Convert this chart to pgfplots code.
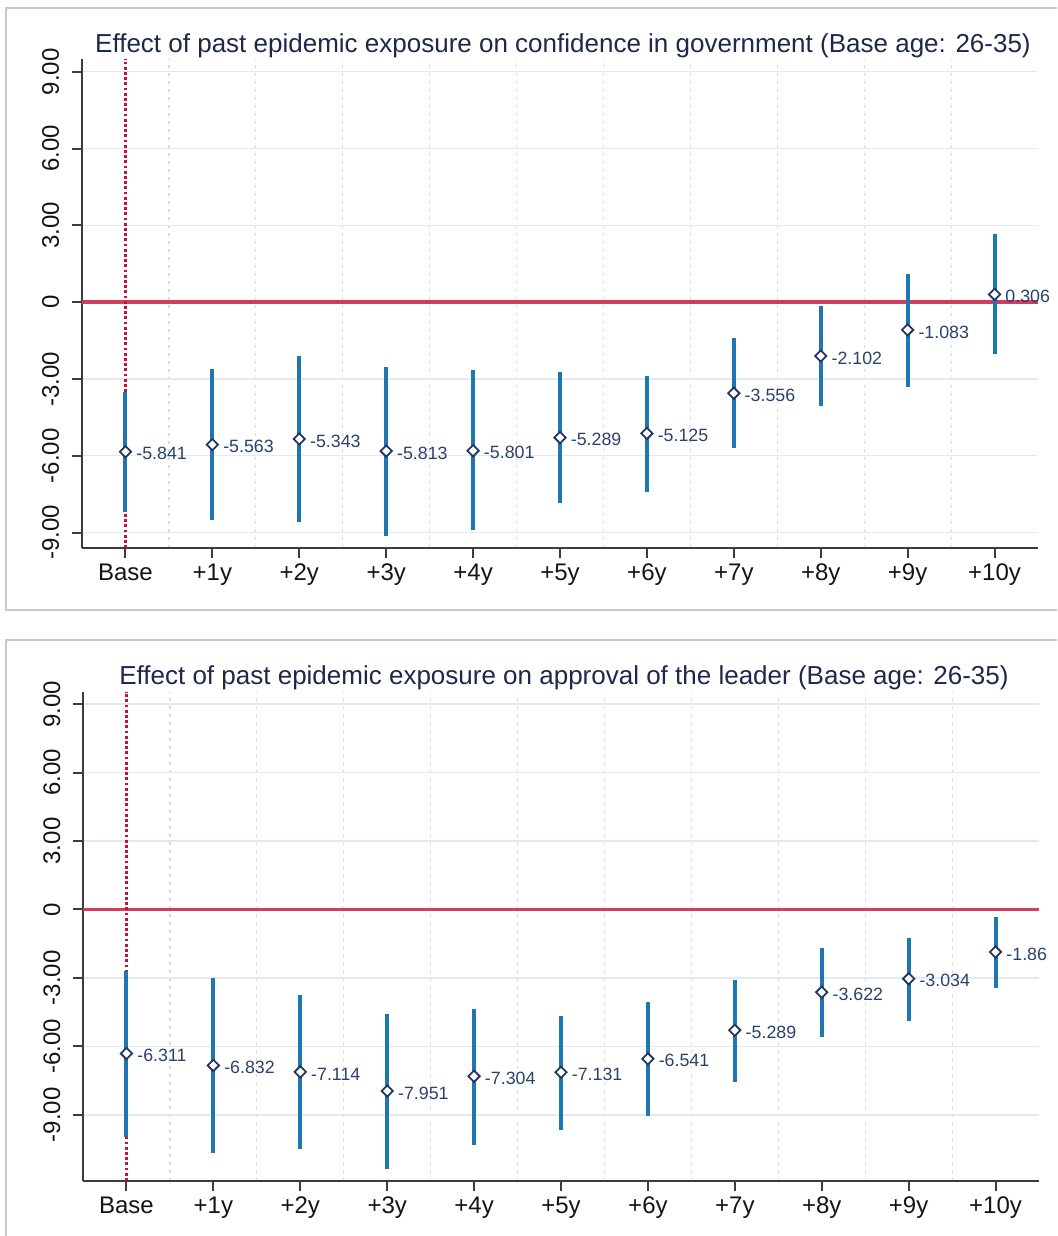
\documentclass[border=0pt]{standalone}
\usepackage{pgfplots}
\pgfplotsset{compat=1.18}
\usepackage{pgfplotstable}
\usepackage{fontspec}
\setmainfont{Liberation Sans}

\definecolor{barblue}{RGB}{30,118,178}
\definecolor{markedge}{RGB}{35,55,95}
\definecolor{labcol}{RGB}{40,65,110}
\definecolor{titlecol}{RGB}{30,40,75}
\definecolor{zerored}{RGB}{208,62,95}
\definecolor{dashred}{RGB}{200,15,55}
\definecolor{gridcol}{RGB}{226,234,238}
\definecolor{vgrid}{RGB}{210,218,226}
\definecolor{framecol}{RGB}{200,200,200}
\definecolor{axiscol}{RGB}{60,60,60}
\definecolor{tickcol}{RGB}{20,20,20}

\pgfplotstableread{
x y ep em lab
0 -5.841 2.32 2.34 -5.841
1 -5.563 2.96 2.96 -5.563
2 -5.343 3.24 3.25 -5.343
3 -5.813 3.29 3.31 -5.813
4 -5.801 3.14 3.11 -5.801
5 -5.289 2.56 2.57 -5.289
6 -5.125 2.25 2.27 -5.125
7 -3.556 2.14 2.14 -3.556
8 -2.102 1.96 1.96 -2.102
9 -1.083 2.18 2.22 -1.083
10 0.306 2.35 2.31 0.306
}\topdata

\pgfplotstableread{
x y ep em lab
0 -6.311 3.62 3.66 -6.311
1 -6.832 3.85 3.84 -6.832
2 -7.114 3.35 3.37 -7.114
3 -7.951 3.39 3.41 -7.951
4 -7.304 2.96 3.01 -7.304
5 -7.131 2.46 2.55 -7.131
6 -6.541 2.49 2.51 -6.541
7 -5.289 2.22 2.27 -5.289
8 -3.622 1.95 1.97 -3.622
9 -3.034 1.80 1.83 -3.034
10 -1.86 1.53 1.56 -1.86
}\botdata

\pgfplotsset{
 panel/.style={
  scale only axis, width=478pt, height=244.5pt, anchor=south west,
  xmin=-0.5, xmax=10.5,
  xtick={0,...,10},
  xticklabels={Base,+1y,+2y,+3y,+4y,+5y,+6y,+7y,+8y,+9y,+10y},
  minor x tick num=1, xminorgrids,
  minor grid style={vgrid, line width=0.6pt, dash pattern=on 1.5pt off 2.5pt},
  ytick={-9,-6,-3,0,3,6,9},
  yticklabels={-9.00,-6.00,-3.00,0,3.00,6.00,9.00},
  ymajorgrids, major grid style={gridcol, line width=0.6pt},
  axis x line*=bottom, axis y line*=left,
  axis line style={-, axiscol, line width=1pt},
  tick align=outside, major tick length=5pt, minor tick length=0pt,
  major tick style={axiscol, line width=1pt},
  clip=false,
  ticklabel style={font=\fontsize{12}{14}\selectfont, text=tickcol},
  yticklabel style={rotate=90, anchor=base},
  yticklabel shift=6.5pt,
  xticklabel style={anchor=base},
  xticklabel shift=11.5pt,
 },
 ebars/.style={draw=none, mark=none, forget plot,
  error bars/.cd, y dir=both, y explicit, error mark=none,
  error bar style={draw=barblue, line width=2pt, solid}},
 pts/.style={only marks, mark=square*, mark size=2.0pt,
  mark options={rotate=45, fill=white, draw=markedge, line width=0.9pt},
  nodes near coords, point meta=explicit symbolic,
  every node near coord/.style={anchor=west, xshift=4.5pt, yshift=-1pt, inner sep=0.5pt,
   font=\fontsize{8.9}{10}\selectfont, text=labcol}},
}

\begin{document}
\begin{tikzpicture}
\useasboundingbox (0,0) rectangle (528.5pt,618pt);
\clip (0,0) rectangle (528.5pt,618pt);
% panel frames
\draw[framecol, line width=0.6pt] (600pt,614pt) -- (3pt,614pt) -- (3pt,313pt) -- (600pt,313pt);
\draw[framecol, line width=0.6pt] (600pt,298pt) -- (3pt,298pt) -- (3pt,-5pt);
% titles
\node[text=titlecol, font=\fontsize{13}{15}\selectfont] at (281.5pt,595pt) {Effect of past epidemic exposure on confidence in government (Base age: 26-35)};
\node[text=titlecol, font=\fontsize{13}{15}\selectfont] at (282pt,279pt) {Effect of past epidemic exposure on approval of the leader (Base age: 26-35)};

\begin{axis}[panel, at={(41pt,344pt)}, ymin=-9.6, ymax=9.5]
 \draw[zerored, line width=1.8pt] (axis cs:-0.5,0) -- (axis cs:10.5,0);
 \draw[dashred, line width=1.2pt, dash pattern=on 1.4pt off 1.2pt] (axis cs:0,-9.6) -- (axis cs:0,9.5);
 \addplot[ebars] table[x=x, y=y, y error plus=ep, y error minus=em] {\topdata};
 \addplot[pts] table[x=x, y=y, meta=lab] {\topdata};
\end{axis}

\begin{axis}[panel, at={(41.5pt,27.65pt)}, ymin=-11.88, ymax=9.54]
 \draw[zerored, line width=1.8pt] (axis cs:-0.5,0) -- (axis cs:10.5,0);
 \draw[dashred, line width=1.2pt, dash pattern=on 1.4pt off 1.2pt] (axis cs:0,-11.88) -- (axis cs:0,9.54);
 \addplot[ebars] table[x=x, y=y, y error plus=ep, y error minus=em] {\botdata};
 \addplot[pts] table[x=x, y=y, meta=lab] {\botdata};
\end{axis}
\end{tikzpicture}
\end{document}
